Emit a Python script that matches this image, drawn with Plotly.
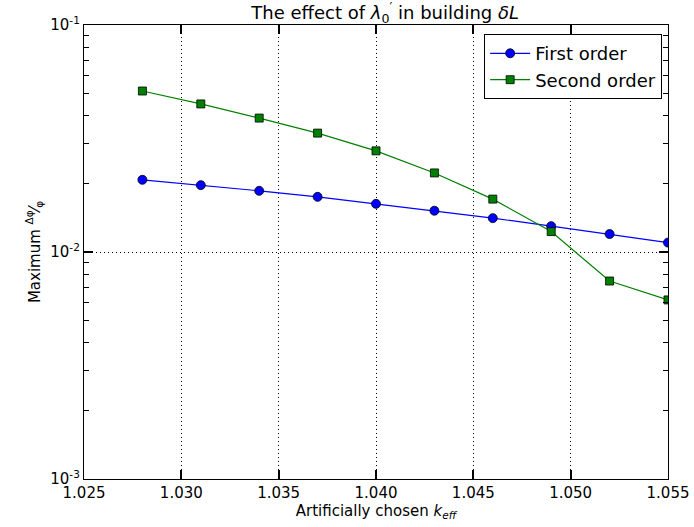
import plotly.graph_objects as go

k_eff = [1.028, 1.031, 1.034, 1.037, 1.040, 1.043, 1.046, 1.049, 1.052, 1.055]
first_order = [0.0208, 0.0197, 0.0186, 0.0175, 0.0163, 0.0152, 0.0141, 0.0130, 0.0120, 0.0110]
second_order = [0.0512, 0.0449, 0.0389, 0.0334, 0.0279, 0.0223, 0.0171, 0.0123, 0.00745, 0.00615]

x_ticks = [1.025, 1.030, 1.035, 1.040, 1.045, 1.050, 1.055]
x_tick_labels = ["1.025", "1.030", "1.035", "1.040", "1.045", "1.050", "1.055"]
y_ticks = [0.001, 0.01, 0.1]
y_tick_labels = ["10<sup>-3</sup>", "10<sup>-2</sup>", "10<sup>-1</sup>"]

fig = go.Figure()
fig.add_trace(go.Scatter(
    x=k_eff, y=first_order, mode="lines+markers", name="First order",
    line=dict(color="#0000ff", width=1.2),
    marker=dict(symbol="circle", size=9, color="#0000ff", line=dict(color="black", width=0.8)),
))
fig.add_trace(go.Scatter(
    x=k_eff, y=second_order, mode="lines+markers", name="Second order",
    line=dict(color="#008000", width=1.2),
    marker=dict(symbol="square", size=8, color="#008000", line=dict(color="black", width=0.8)),
))

axis_common = dict(
    showline=True, linecolor="black", linewidth=1.3, mirror="allticks",
    ticks="inside", ticklen=9, tickcolor="#000000", tickwidth=1.5,
    showgrid=True, gridcolor="black", griddash="1px,3px", gridwidth=1,
    zeroline=False, tickfont=dict(size=15, color="black"),
)

fig.update_xaxes(
    range=[1.025, 1.055], tickmode="array", tickvals=x_ticks, ticktext=x_tick_labels,
    title=dict(text="Artificially chosen <i>k</i><sub><i>eff</i></sub>", font=dict(size=15, color="black"), standoff=4),
    **axis_common,
)
fig.update_yaxes(
    type="log", range=[-3, -1], tickmode="array", tickvals=y_ticks, ticktext=y_tick_labels,
    title=dict(text="Maximum <sup>Δφ</sup>⁄<sub>φ</sub>", font=dict(size=15, color="black"), standoff=6),
    minor=dict(dtick="D1", ticks="inside", ticklen=5,
               tickcolor="#000000", tickwidth=1.3, showgrid=False),
    **axis_common,
)

fig.update_layout(
    width=694, height=527,
    margin=dict(l=84, r=26, t=25, b=48, autoexpand=False),
    paper_bgcolor="white", plot_bgcolor="white",
    font=dict(family="DejaVu Sans", color="black"),
    title=dict(text="The effect of <i>λ</i><sub>0</sub><sup>′</sup> in building <i>δL</i>",
               x=0.555, xanchor="center", y=0.988, yanchor="top", font=dict(size=18, color="black")),
    showlegend=True,
    legend=dict(x=0.99, y=0.98, xanchor="right", yanchor="top",
                bordercolor="black", borderwidth=1, bgcolor="white",
                font=dict(size=18, color="black"), itemwidth=40, tracegroupgap=2),
)

fig.write_html("out.html")
